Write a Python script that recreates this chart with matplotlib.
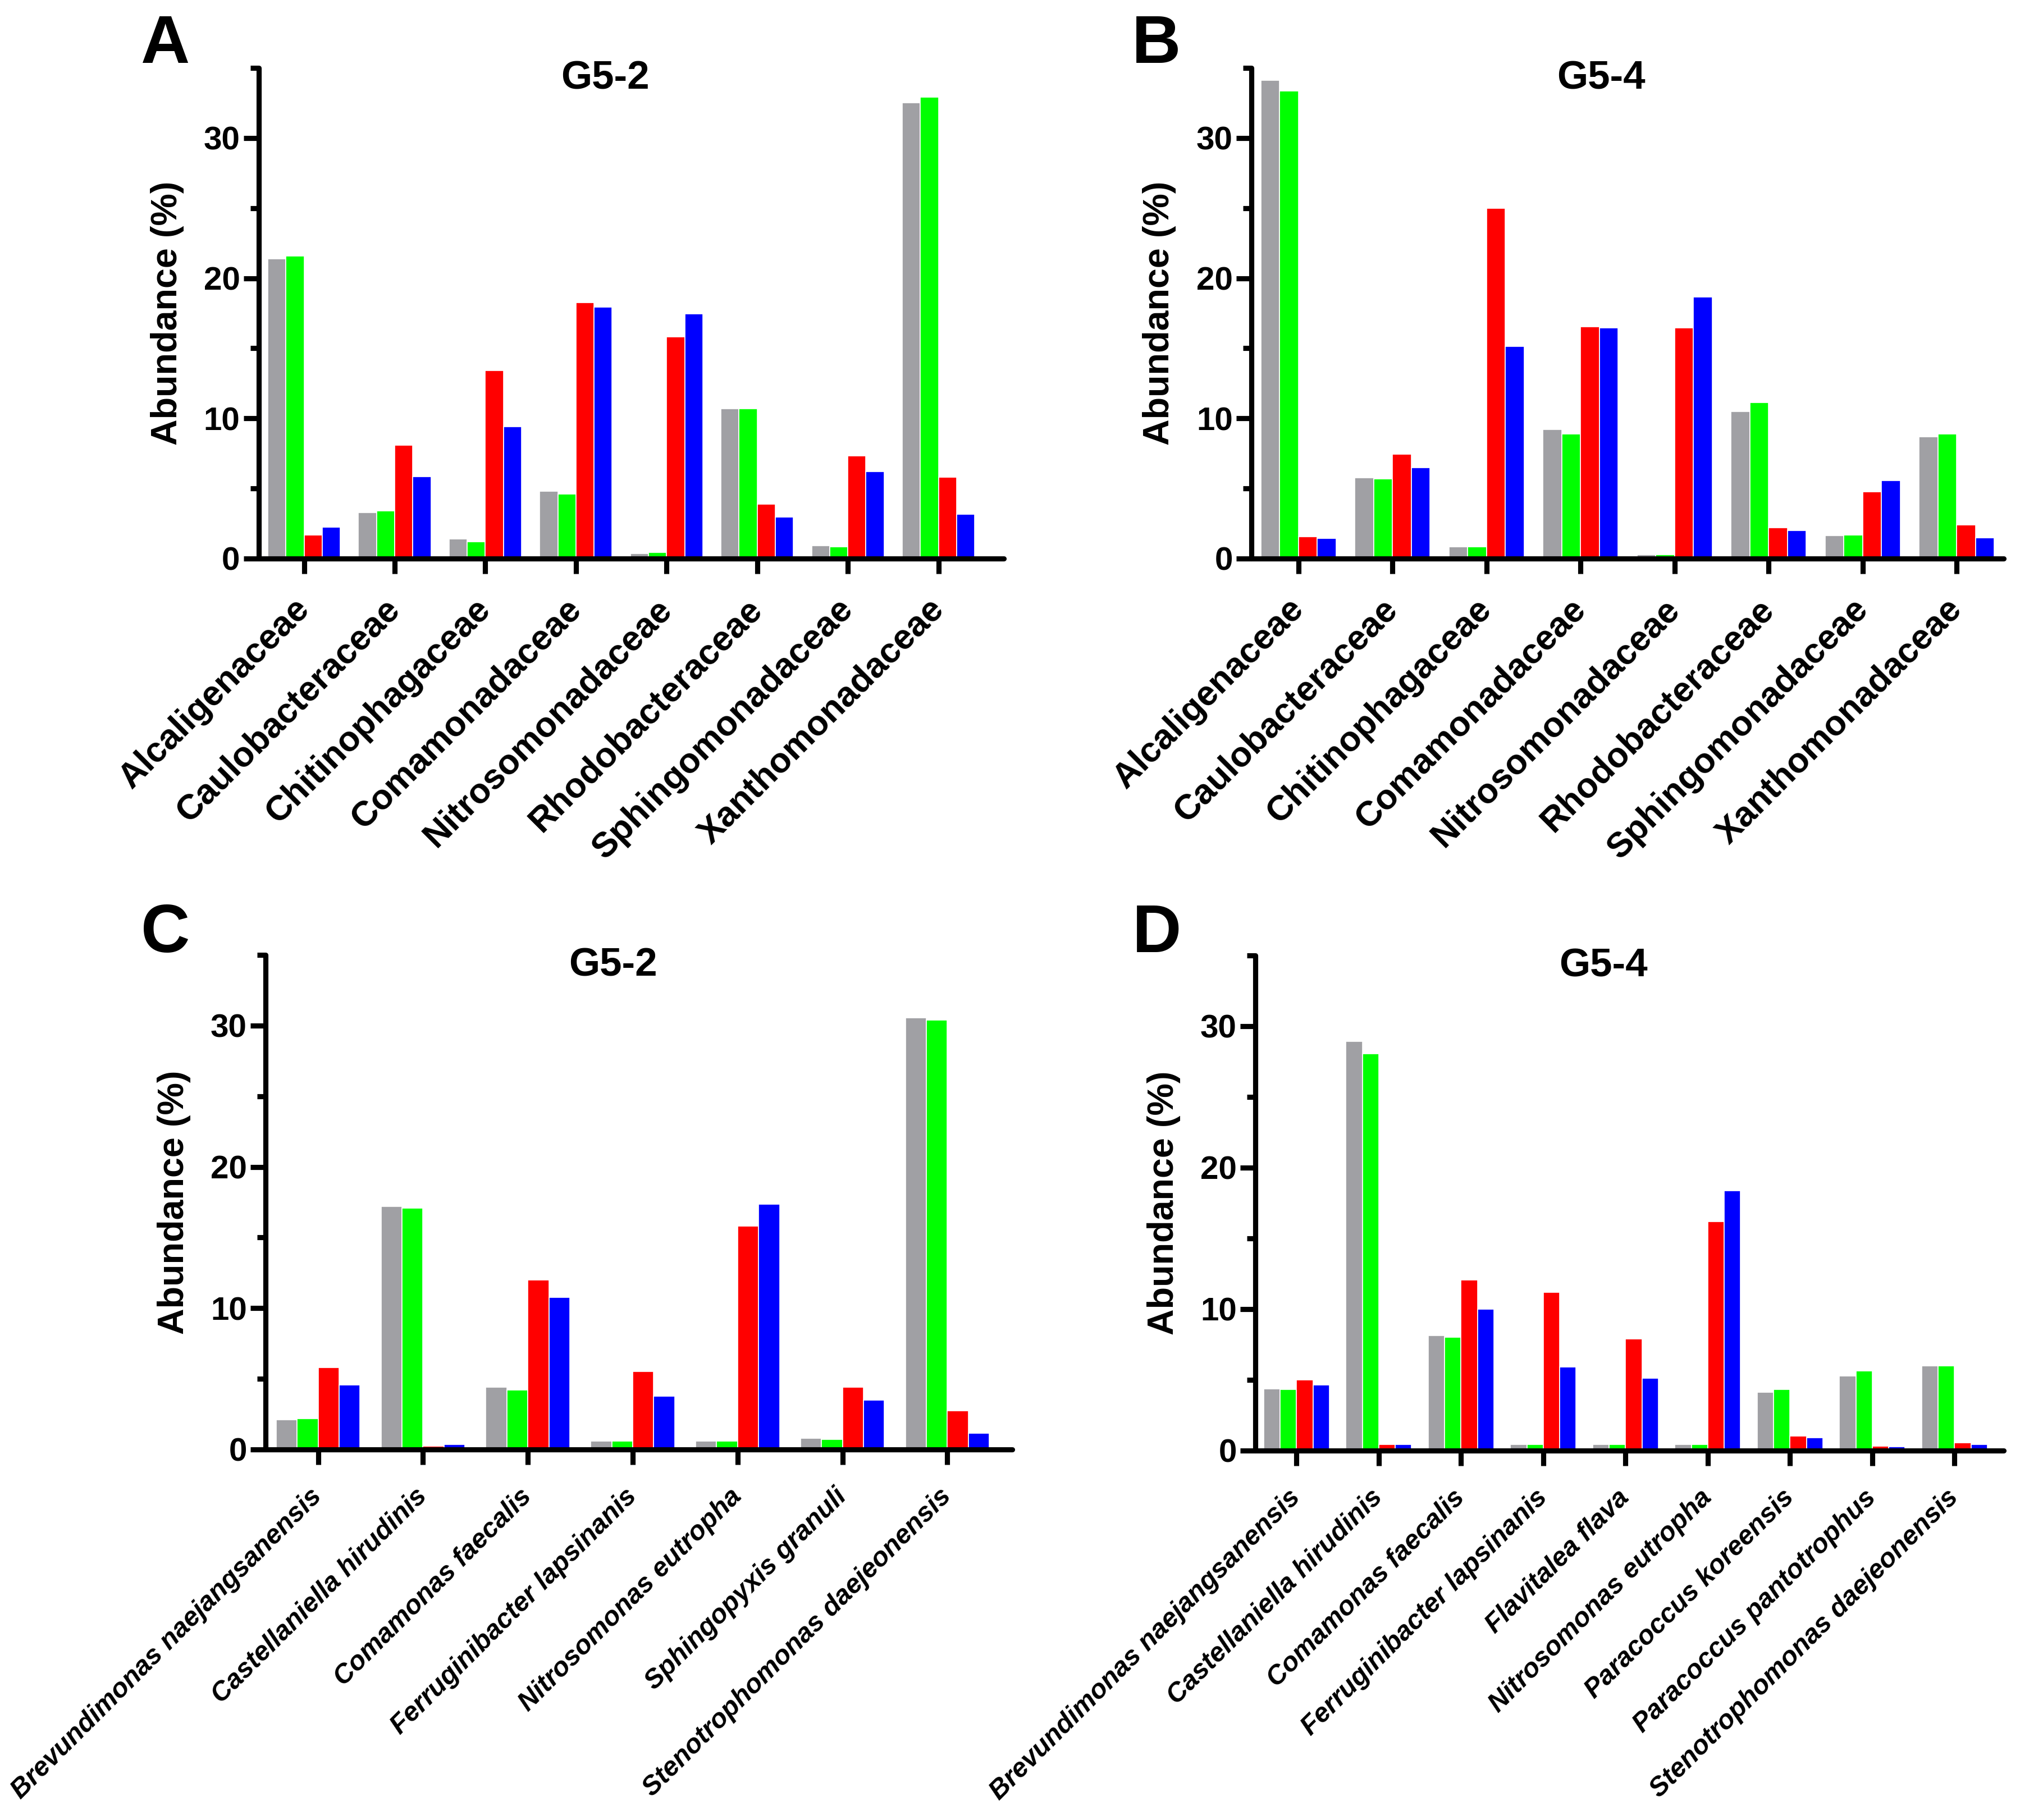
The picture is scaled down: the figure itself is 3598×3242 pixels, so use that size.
import matplotlib
matplotlib.use('Agg')
import numpy as np
import matplotlib.pyplot as plt
from matplotlib.ticker import MultipleLocator

plt.rcParams['font.family'] = ['Liberation Sans', 'DejaVu Sans']
plt.rcParams['font.weight'] = 'bold'

# colours of the four samples
bar_colors = ['#a0a0a4', '#00ff00', '#ff0000', '#0000ff']

# --- family level (A, B) ---
families = ['Alcaligenaceae', 'Caulobacteraceae', 'Chitinophagaceae', 'Comamonadaceae',
            'Nitrosomonadaceae', 'Rhodobacteraceae', 'Sphingomonadaceae', 'Xanthomonadaceae']

a_gray = [21.4, 3.3, 1.4, 4.8, 0.37, 10.7, 0.9, 32.5]
a_green = [21.6, 3.4, 1.2, 4.6, 0.45, 10.7, 0.84, 32.9]
a_red = [1.7, 8.1, 13.4, 18.25, 15.8, 3.9, 7.33, 5.8]
a_blue = [2.25, 5.85, 9.4, 17.95, 17.45, 2.98, 6.2, 3.17]

b_gray = [34.1, 5.75, 0.84, 9.2, 0.28, 10.5, 1.63, 8.7]
b_green = [33.35, 5.7, 0.84, 8.9, 0.28, 11.15, 1.68, 8.9]
b_red = [1.57, 7.43, 25.0, 16.55, 16.45, 2.2, 4.77, 2.41]
b_blue = [1.46, 6.48, 15.15, 16.45, 18.65, 2.0, 5.55, 1.49]

# --- species level (C, D) ---
species_c = ['Brevundimonas naejangsanensis', 'Castellaniella hirudinis', 'Comamonas faecalis',
             'Ferruginibacter lapsinanis', 'Nitrosomonas eutropha', 'Sphingopyxis granuli',
             'Stenotrophomonas daejeonensis']

c_gray = [2.12, 17.2, 4.4, 0.58, 0.58, 0.78, 30.55]
c_green = [2.17, 17.1, 4.2, 0.58, 0.58, 0.72, 30.4]
c_red = [5.8, 0.22, 12.0, 5.52, 15.8, 4.4, 2.73]
c_blue = [4.55, 0.36, 10.76, 3.76, 17.37, 3.48, 1.14]

species_d = ['Brevundimonas naejangsanensis', 'Castellaniella hirudinis', 'Comamonas faecalis',
             'Ferruginibacter lapsinanis', 'Flavitalea flava', 'Nitrosomonas eutropha',
             'Paracoccus koreensis', 'Paracoccus pantotrophus', 'Stenotrophomonas daejeonensis']

d_gray = [4.37, 28.9, 8.13, 0.42, 0.42, 0.42, 4.12, 5.29, 5.98]
d_green = [4.31, 28.05, 8.0, 0.42, 0.42, 0.42, 4.31, 5.62, 5.98]
d_red = [5.0, 0.42, 12.05, 11.2, 7.9, 16.2, 1.03, 0.33, 0.56]
d_blue = [4.65, 0.42, 10.0, 5.9, 5.1, 18.37, 0.92, 0.28, 0.42]

fig = plt.figure(figsize=(3598 / 300, 3242 / 300), dpi=300)

LW = 2.2


def draw_panel(rect, cats, series, xmax, title, letter, letter_xy, italic, lab_size, lab_pad):
    ax = fig.add_axes(rect)
    x = np.arange(len(cats))
    w = 0.2
    for i, (vals, col) in enumerate(zip(series, bar_colors)):
        ax.bar(x + (i - 1.5) * w, vals, width=w, color=col, edgecolor='white',
               linewidth=0.4, zorder=2)
    ax.set_xlim(-0.5, xmax)
    ax.set_ylim(0, 35)
    for s in ['top', 'right']:
        ax.spines[s].set_visible(False)
    for s in ['left', 'bottom']:
        ax.spines[s].set_linewidth(LW)
        ax.spines[s].set_capstyle('round')
        ax.spines[s].set_zorder(3)
    ax.yaxis.set_major_locator(MultipleLocator(10))
    ax.yaxis.set_minor_locator(MultipleLocator(5))
    ax.tick_params(axis='both', which='major', direction='out', length=6.5, width=LW,
                   labelsize=14)
    ax.tick_params(axis='y', which='minor', direction='out', length=3.5, width=LW)
    ax.tick_params(axis='y', which='major', pad=1.5)
    ax.tick_params(axis='x', which='major', pad=lab_pad)
    ax.set_xticks(x)
    ax.set_xticklabels(cats, rotation=45, ha='right', va='center', rotation_mode='anchor',
                       fontsize=lab_size, fontweight='bold',
                       fontstyle='italic' if italic else 'normal')
    for t in ax.get_yticklabels():
        t.set_fontweight('bold')
    ax.set_ylabel('Abundance (%)', fontsize=15.5, fontweight='bold')
    ax.yaxis.set_label_coords(-0.10, 0.5)
    ax.text(0.465, 0.978, title, transform=ax.transAxes, ha='center', va='center',
            fontsize=17, fontweight='bold')
    fig.text(letter_xy[0], letter_xy[1], letter, fontsize=29, fontweight='bold',
             ha='left', va='baseline')
    return ax


draw_panel([0.1281, 0.6931, 0.3688, 0.2696], families, [a_gray, a_green, a_red, a_blue],
           7.72, 'G5-2', 'A', (0.0698, 0.9655), False, 15, 13)
draw_panel([0.6195, 0.6931, 0.3724, 0.2696], families, [b_gray, b_green, b_red, b_blue],
           7.5, 'G5-4', 'B', (0.5603, 0.9655), False, 15, 13)
draw_panel([0.1315, 0.2036, 0.3697, 0.2717], species_c, [c_gray, c_green, c_red, c_blue],
           6.62, 'G5-2', 'C', (0.0698, 0.4769), True, 11.5, 12)
draw_panel([0.6215, 0.2030, 0.3705, 0.2721], species_d, [d_gray, d_green, d_red, d_blue],
           8.6, 'G5-4', 'D', (0.5606, 0.4769), True, 11.5, 12)

fig.savefig('out.png', dpi=300)
